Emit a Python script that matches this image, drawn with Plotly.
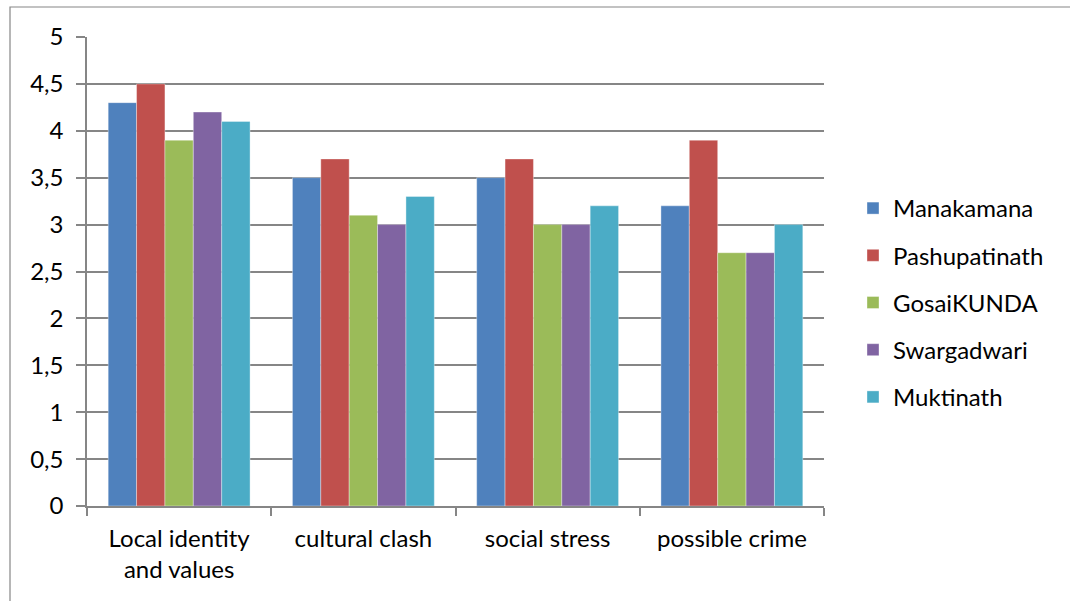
import plotly.graph_objects as go

categories = ["Local identity<br>and values", "cultural clash", "social stress", "possible crime"]
series_names = ["Manakamana", "Pashupatinath", "GosaiKUNDA", "Swargadwari", "Muktinath"]
manakamana = [4.3, 3.5, 3.5, 3.2]
pashupatinath = [4.5, 3.7, 3.7, 3.9]
gosaikunda = [3.9, 3.1, 3.0, 2.7]
swargadwari = [4.2, 3.0, 3.0, 2.7]
muktinath = [4.1, 3.3, 3.2, 3.0]
values = [manakamana, pashupatinath, gosaikunda, swargadwari, muktinath]
colors = ["#4F81BD", "#C0504D", "#9BBB59", "#8064A2", "#4BACC6"]
y_ticks = [0, 0.5, 1, 1.5, 2, 2.5, 3, 3.5, 4, 4.5, 5]

W, H = 1070, 601
L, R, T, B = 87, 824, 37, 506

fig = go.Figure()
for name, vals, col in zip(series_names, values, colors):
    fig.add_trace(go.Bar(
        x=categories, y=vals, name=name, legendgroup=name,
        marker=dict(color=col, line=dict(width=0.6, color="rgba(255,255,255,0.6)")),
    ))

grid = "#868686"
fig.update_layout(
    width=W, height=H,
    margin=dict(l=L, r=W - R, t=T, b=H - B, pad=0),
    paper_bgcolor="white", plot_bgcolor="white",
    separators=", ",
    barmode="group", bargap=0.23, bargroupgap=0,
    font=dict(family="Lato, Open Sans, sans-serif", size=24, color="#000000"),
    showlegend=True,
    legend=dict(x=(853 - L) / (R - L), xanchor="left", y=0.5 - 31 / (B - T), yanchor="middle",
                font=dict(size=24), tracegroupgap=13, itemwidth=30,
                bgcolor="rgba(0,0,0,0)"),
    xaxis=dict(showline=True, linecolor=grid, linewidth=1.5, ticks="outside",
               tickson="boundaries", ticklen=8, tickcolor=grid, tickwidth=1.5,
               showgrid=False, tickfont=dict(size=24), ticklabelstandoff=10),
    yaxis=dict(range=[0, 5], tickvals=y_ticks, showline=True, linecolor=grid,
               linewidth=1.5, ticks="outside", ticklen=9, tickcolor=grid,
               tickwidth=1.5, showgrid=True, gridcolor=grid, gridwidth=1.5,
               zeroline=False, tickfont=dict(size=24), ticklabelstandoff=8),
)

# outer chart frame (right and bottom edges lie outside the visible page)
fig.add_shape(type="rect", xref="paper", yref="paper",
              x0=(10 - L) / (R - L), x1=(1080 - L) / (R - L),
              y0=(B - 612) / (B - T), y1=(B - 7) / (B - T),
              line=dict(color=grid, width=1.2), layer="below")

fig.write_html("out.html")
